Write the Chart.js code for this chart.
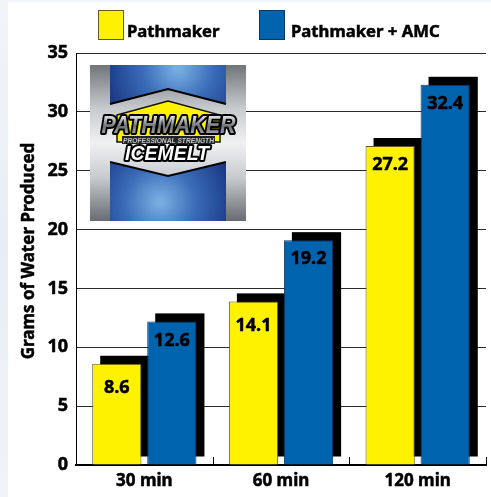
<!DOCTYPE html>
<html>
<head>
<meta charset="utf-8">
<title>Pathmaker</title>
<script src="https://cdn.jsdelivr.net/npm/chart.js@4"></script>
<style>
  html, body { margin: 0; padding: 0; background: linear-gradient(180deg, #f1f4f9, #e8edf5 50%, #f0f3f8); }
  canvas { display: block; }
</style>
</head>
<body>
<canvas id="waterChart" width="491" height="497"></canvas>
<script>
const times = ['30 min', '60 min', '120 min'];
const yTicks = [0, 5, 10, 15, 20, 25, 30, 35];
const yTitle = 'Grams of Water Produced';

const seriesNames = ['Pathmaker', 'Pathmaker + AMC'];
// bar heights as drawn in the picture
const pathmakerBars = [8.6, 13.9, 27.1];
const amcBars = [12.2, 19.1, 32.3];
// numbers printed on the bars
const pathmakerLabels = ['8.6', '14.1', '27.2'];
const amcLabels = ['12.6', '19.2', '32.4'];

const FONT = '"Noto Sans", sans-serif';
const YELLOW = '#fff200';
const BLUE = '#0063ae';
const SHADOW = 8;

// bold text with a hair of outline, the original face is heavier than Noto bold
function heavyText(ctx, text, x, y) {
  ctx.lineWidth = 0.5;
  ctx.strokeStyle = '#000';
  ctx.strokeText(text, x, y);
  ctx.fillText(text, x, y);
}

function drawLogo(ctx) {
  const x = 90, y = 65, s = 156;
  ctx.save();
  let g = ctx.createLinearGradient(0, y, 0, y + s);
  g.addColorStop(0, '#70757a');
  g.addColorStop(0.28, '#c8cbce');
  g.addColorStop(0.5, '#f0f1f3');
  g.addColorStop(0.72, '#c8cbce');
  g.addColorStop(1, '#686c72');
  ctx.fillStyle = g;
  ctx.fillRect(x, y, s, s);

  // blue panels
  function panel(pts, cx, cy) {
    const r = ctx.createRadialGradient(cx, cy, 3, cx, cy, 75);
    r.addColorStop(0, '#74aee0');
    r.addColorStop(0.45, '#3a6cb8');
    r.addColorStop(1, '#1a3783');
    ctx.beginPath();
    pts.forEach((p, i) => i ? ctx.lineTo(p[0], p[1]) : ctx.moveTo(p[0], p[1]));
    ctx.closePath();
    ctx.fillStyle = r;
    ctx.fill();
    ctx.strokeStyle = '#000';
    ctx.lineWidth = 2;
    ctx.beginPath();
    ctx.moveTo(pts[0][0], pts[0][1]);
    ctx.lineTo(pts[1][0], pts[1][1]);
    ctx.lineTo(pts[2][0], pts[2][1]);
    ctx.stroke();
  }
  panel([[110, 104], [168, 89], [226, 104], [226, 65], [110, 65]], 178, 68);
  panel([[110, 162], [168, 176], [226, 162], [226, 221], [110, 221]], 160, 202);

  // yellow badge
  ctx.beginPath();
  [[117, 115], [168, 101], [220, 115], [220, 142], [117, 142]].forEach((p, i) => i ? ctx.lineTo(p[0], p[1]) : ctx.moveTo(p[0], p[1]));
  ctx.closePath();
  ctx.fillStyle = YELLOW;
  ctx.fill();
  ctx.strokeStyle = '#111';
  ctx.lineWidth = 1.5;
  ctx.stroke();

  ctx.textAlign = 'center';
  ctx.textBaseline = 'alphabetic';
  ctx.lineJoin = 'round';

  g = ctx.createLinearGradient(0, 117, 0, 134);
  g.addColorStop(0, '#d8dadc');
  g.addColorStop(0.55, '#6d7074');
  g.addColorStop(1, '#a5a8ab');
  ctx.font = 'italic bold 23px "Liberation Sans", sans-serif';
  ctx.strokeStyle = '#000';
  ctx.lineWidth = 4;
  ctx.strokeText('PATHMAKER', 168.5, 133, 134);
  ctx.fillStyle = g;
  ctx.fillText('PATHMAKER', 168.5, 133, 134);

  ctx.fillStyle = '#222';
  ctx.fillRect(122, 136, 93, 8);
  ctx.font = 'italic bold 7.5px "Liberation Sans", sans-serif';
  ctx.fillStyle = '#c4c7ca';
  ctx.fillText('PROFESSIONAL STRENGTH', 168.5, 143, 91);

  ctx.font = 'italic bold 20px "Liberation Sans", sans-serif';
  ctx.lineWidth = 4;
  ctx.strokeText('ICEMELT', 167, 160, 84);
  ctx.fillStyle = '#fff';
  ctx.fillText('ICEMELT', 167, 160, 84);
  ctx.restore();
}

const chartDecor = {
  id: 'chartDecor',
  beforeDraw(chart) {
    const ctx = chart.ctx;
    ctx.save();
    ctx.fillStyle = '#fff';
    ctx.fillRect(8, 2, chart.width - 8, chart.height - 2);
    ctx.restore();
  },
  beforeDatasetsDraw(chart) {
    const ctx = chart.ctx;
    const area = chart.chartArea;
    const xScale = chart.scales.x;
    ctx.save();

    // short ticks between the groups
    ctx.strokeStyle = '#000';
    ctx.lineWidth = 1;
    for (let i = 0; i <= times.length; i++) {
      const px = Math.round(area.left + i * xScale.width / times.length) + 0.5;
      ctx.beginPath();
      ctx.moveTo(px, area.bottom - 8);
      ctx.lineTo(px, area.bottom);
      ctx.stroke();
    }

    drawLogo(ctx);

    // black offset block behind every bar
    ctx.fillStyle = '#000';
    chart.data.datasets.forEach((ds, d) => {
      chart.getDatasetMeta(d).data.forEach(bar => {
        ctx.fillRect(bar.x - bar.width / 2 + SHADOW, bar.y - SHADOW, bar.width, bar.base - bar.y);
      });
    });

    // series key above the plot
    ctx.textAlign = 'left';
    ctx.textBaseline = 'alphabetic';
    ctx.font = 'bold 16.7px ' + FONT;
    [[98, 127], [259, 291]].forEach((pos, d) => {
      const ds = chart.data.datasets[d];
      ctx.fillStyle = ds.backgroundColor;
      ctx.fillRect(pos[0], 10, 26, 30);
      ctx.strokeStyle = ds.borderColor;
      ctx.lineWidth = 1;
      ctx.strokeRect(pos[0] + 0.5, 10.5, 25, 29);
      ctx.fillStyle = '#000';
      heavyText(ctx, ds.label, pos[1], 37);
    });

    // axis title
    ctx.translate(34, 251);
    ctx.rotate(-Math.PI / 2);
    ctx.textAlign = 'center';
    ctx.font = 'bold 17px ' + FONT;
    heavyText(ctx, yTitle, 0, 0);
    ctx.restore();
  },
  afterDatasetsDraw(chart) {
    const ctx = chart.ctx;
    const texts = [pathmakerLabels, amcLabels];
    ctx.save();
    ctx.fillStyle = '#000';
    ctx.font = 'bold 18px ' + FONT;
    ctx.textAlign = 'center';
    ctx.textBaseline = 'middle';
    chart.data.datasets.forEach((ds, d) => {
      chart.getDatasetMeta(d).data.forEach((bar, i) => {
        heavyText(ctx, texts[d][i], bar.x, bar.y + (d === 0 && i < 2 ? 24 : 19));
      });
    });
    ctx.restore();
  }
};

new Chart(document.getElementById('waterChart'), {
  type: 'bar',
  data: {
    labels: times,
    datasets: [
      { label: seriesNames[0], data: pathmakerBars, backgroundColor: YELLOW, borderColor: '#5f5a1e', borderWidth: 1 },
      { label: seriesNames[1], data: amcBars, backgroundColor: BLUE, borderColor: '#0b3768', borderWidth: 1 }
    ]
  },
  options: {
    responsive: false,
    animation: false,
    layout: { padding: { top: 53, right: 5, bottom: 0, left: 0 } },
    datasets: { bar: { categoryPercentage: 0.805, barPercentage: 0.895 } },
    plugins: { legend: { display: false }, tooltip: { enabled: false } },
    scales: {
      x: {
        afterFit: scale => { scale.height = 32; },
        grid: { display: false },
        border: { color: '#000', width: 2 },
        ticks: { color: '#000', padding: -2, maxRotation: 0, textStrokeColor: '#000', textStrokeWidth: 0.5, font: { family: FONT, weight: 'bold', size: 17 } }
      },
      y: {
        min: 0,
        max: 35,
        afterFit: scale => { scale.width = 76; },
        afterBuildTicks: scale => { scale.ticks = yTicks.map(v => ({ value: v })); },
        grid: { color: '#2a2a2a', lineWidth: 1, drawTicks: false },
        border: { color: '#000', width: 1 },
        ticks: { color: '#000', padding: 8, textStrokeColor: '#000', textStrokeWidth: 0.5, font: { family: FONT, weight: 'bold', size: 18 } }
      }
    }
  },
  plugins: [chartDecor]
});
</script>
</body>
</html>
